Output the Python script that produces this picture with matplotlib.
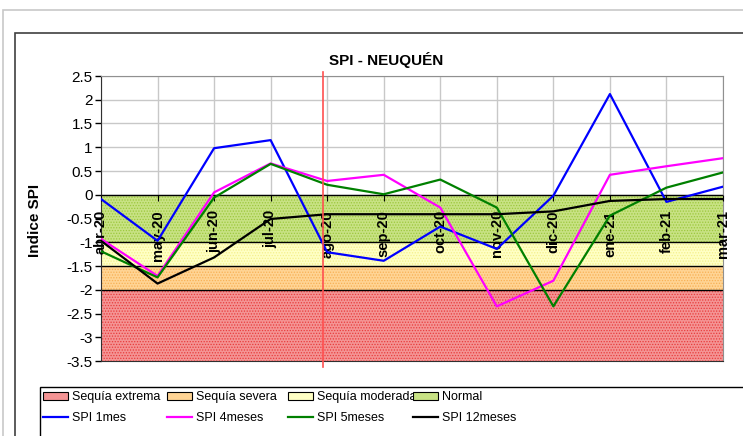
import matplotlib
matplotlib.use('Agg')
from matplotlib import pyplot as plt
from matplotlib.patches import Rectangle, Patch
from matplotlib.lines import Line2D

plt.rcParams['font.family'] = ['Liberation Sans', 'DejaVu Sans']
plt.rcParams['axes.unicode_minus'] = False
plt.rcParams['hatch.linewidth'] = 0.6

#--- datos
meses = ['abr-20', 'may-20', 'jun-20', 'jul-20', 'ago-20', 'sep-20',
         'oct-20', 'nov-20', 'dic-20', 'ene-21', 'feb-21', 'mar-21']
spi_1 = [-0.09, -0.97, 0.98, 1.15, -1.21, -1.39, -0.67, -1.14, -0.02, 2.12, -0.15, 0.17]
spi_4 = [-0.93, -1.71, 0.05, 0.66, 0.29, 0.42, -0.27, -2.35, -1.81, 0.42, 0.60, 0.77]
spi_5 = [-1.19, -1.74, -0.06, 0.65, 0.21, 0.01, 0.32, -0.27, -2.35, -0.44, 0.15, 0.47]
spi_12 = [-0.97, -1.87, -1.32, -0.51, -0.41, -0.41, -0.41, -0.41, -0.35, -0.13, -0.09, -0.09]

# bandas de sequia: (nombre, desde, hasta)
bandas = [('Sequía extrema', -3.5, -2.0),
          ('Sequía severa', -2.0, -1.5),
          ('Sequía moderada', -1.5, -1.0),
          ('Normal', -1.0, 0.0)]
colores_banda = {'Sequía extrema': ('#f49494', '#e83c3c'),
                 'Sequía severa': ('#ffd494', '#f7b054'),
                 'Sequía moderada': ('#ffffc4', '#f4f08c'),
                 'Normal': ('#c8e284', '#9cc83c')}

series = [('SPI 1mes', spi_1, '#0000ff'),
          ('SPI 4meses', spi_4, '#ff00ff'),
          ('SPI 5meses', spi_5, '#008000'),
          ('SPI 12meses', spi_12, '#000000')]

marca_x = 3.93  # linea roja vertical
W, H = 743, 436

fig = plt.figure(figsize=(W / 100, H / 100), dpi=100)

# marcos exteriores
fig.patches.append(Rectangle((3 / W, -0.1), 1.2, 1 - 10 / H + 0.1, transform=fig.transFigure,
                             fill=False, edgecolor='#c8c8c8', lw=1.2))
fig.patches.append(Rectangle((15 / W, -0.1), 1.2, 1 - 33 / H + 0.1, transform=fig.transFigure,
                             fill=False, edgecolor='#404040', lw=1.2))

ax = fig.add_axes([101 / W, 1 - 361 / H, (723 - 101) / W, (361 - 76) / H])
x = list(range(len(meses)))

ax.set_xlim(0, len(meses) - 1)
ax.set_ylim(-3.5, 2.5)
ax.set_yticks([v / 2 for v in range(-7, 6)])
ax.set_yticklabels(['%g' % (v / 2) for v in range(-7, 6)], fontsize=11)
ax.set_xticks(x)
ax.tick_params(axis='x', bottom=False, labelbottom=False)
ax.tick_params(axis='y', length=4, width=1, color='black', pad=2)
ax.grid(True, color='#c8c8c8', lw=1, zorder=0)
ax.set_axisbelow(True)

for nombre, y0, y1 in bandas:
    base, trama = colores_banda[nombre]
    ax.fill_between([0, len(meses) - 1], y0, y1, facecolor=base, edgecolor=trama,
                    hatch='......', lw=0, zorder=1)
    ax.axhline(y1, color='black', lw=1, zorder=2)

for nombre, vals, col in series:
    ax.plot(x, vals, color=col, lw=1.6, zorder=3)

ax.plot([marca_x, marca_x], [-3.63, 2.58], color='#ff5050', lw=1.2, zorder=4, clip_on=False)

for s in ['top', 'right']:
    ax.spines[s].set_color('#909090')
for s in ['left', 'bottom']:
    ax.spines[s].set_color('#303030')

# eje de categorias en y=0
sec = ax.secondary_xaxis(3.5 / 6)
sec.set_alignment('bottom')
sec.set_zorder(2.5)
sec.set_xticks(x)
sec.set_xticklabels(meses, rotation=90, fontsize=10.5, fontweight='bold')
sec.tick_params(length=4, pad=7, color='black')
for s in ['top', 'bottom']:
    sec.spines[s].set_visible(False)

fig.text(386 / W, 1 - 60 / H, 'SPI - NEUQUÉN', ha='center', va='center',
         fontsize=11, fontweight='bold')
fig.text(35 / W, 1 - 220 / H, 'Indice SPI', ha='center', va='center',
         rotation=90, fontsize=11, fontweight='bold')

# leyenda
fig.patches.append(Rectangle((40 / W, -0.1), 1.2, 1 - 387 / H + 0.1, transform=fig.transFigure,
                             fill=False, edgecolor='black', lw=1))
cols_x = [43, 167, 288, 413]
for i, (nombre, y0, y1) in enumerate(bandas):
    base, trama = colores_banda[nombre]
    h1 = Patch(facecolor=base, edgecolor='black', lw=0.8, label=nombre)
    sn, _, sc = series[i]
    h2 = Line2D([], [], color=sc, lw=1.6, label=sn)
    fig.legend(handles=[h1, h2], loc='upper left', bbox_to_anchor=(cols_x[i] / W, 1 - 391 / H),
               frameon=False, handlelength=2.0, handleheight=0.6, fontsize=9,
               handletextpad=0.3, labelspacing=0.75, borderpad=0, borderaxespad=0)

fig.savefig('out.png', dpi=100)
